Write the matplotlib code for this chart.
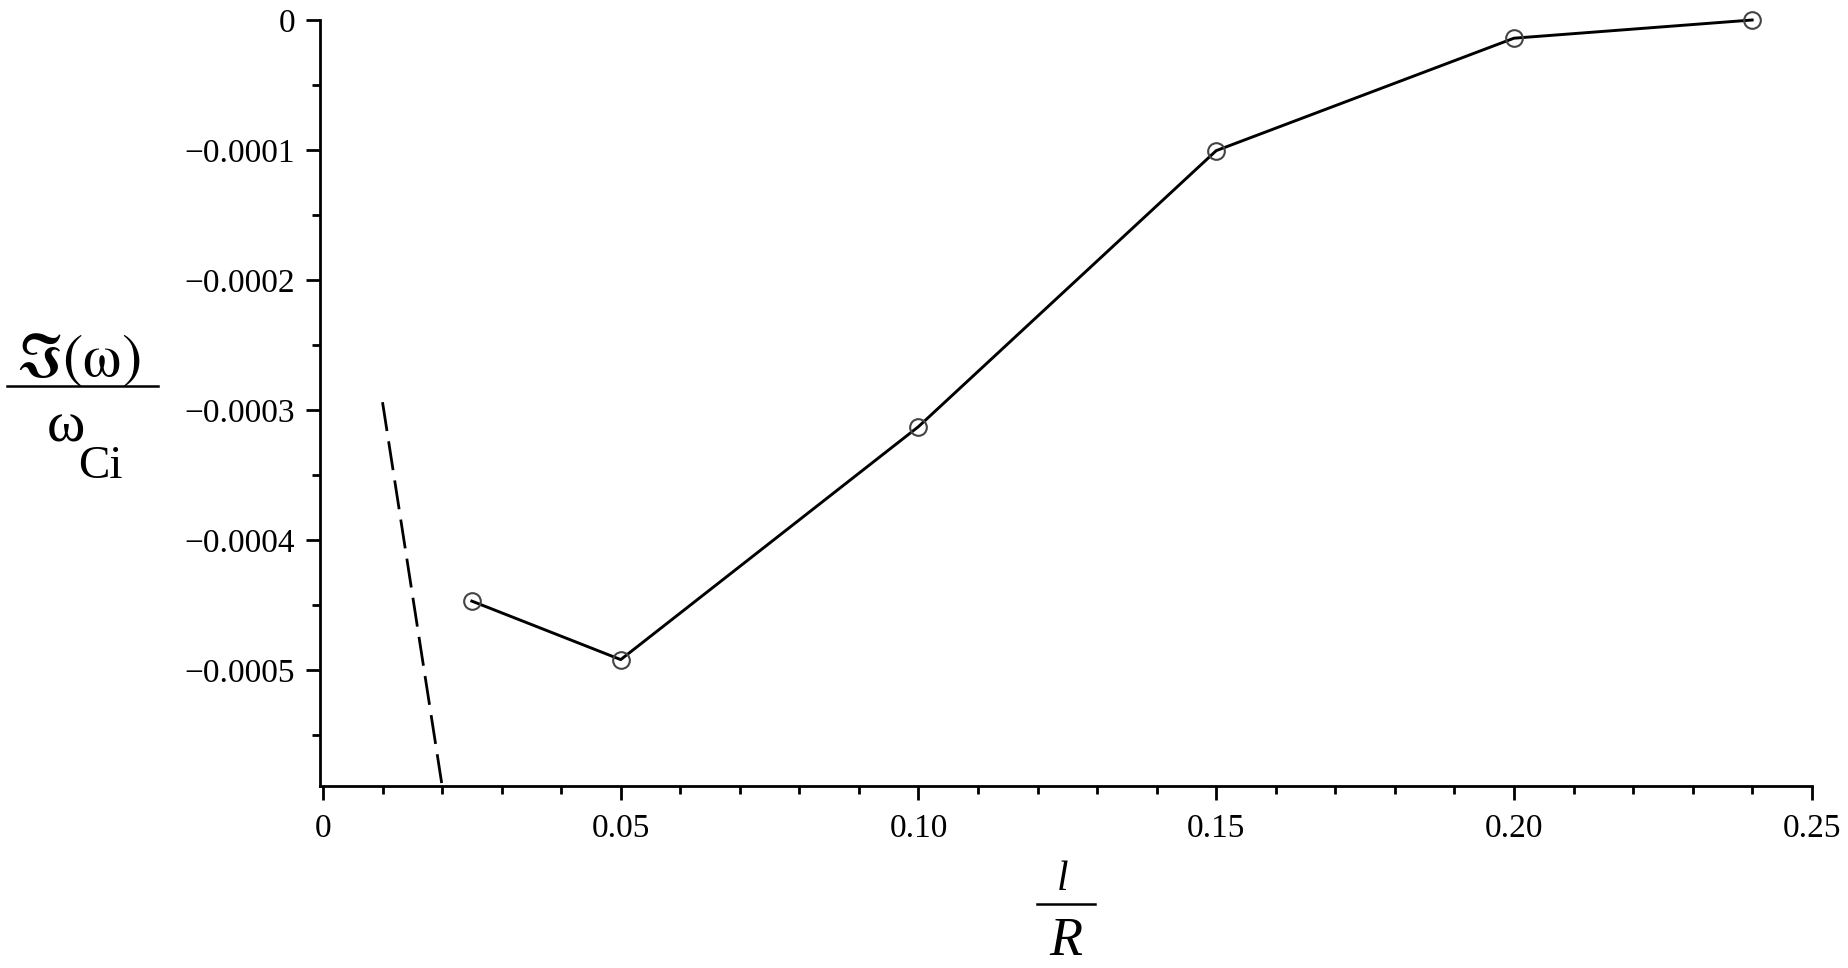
import matplotlib
matplotlib.use("Agg")
import matplotlib.pyplot as plt
from matplotlib.lines import Line2D
from matplotlib.ticker import MultipleLocator, FixedLocator

# ---- data ----
l_over_R = [0.025, 0.05, 0.10, 0.15, 0.20, 0.24]
im_omega = [-0.000447, -0.000492, -0.0003128, -0.0001005, -0.000014, 0.0]
dash_x = [0.01, 0.02]
dash_y = [-0.000294, -0.000589]
xtick_vals = [0, 0.05, 0.10, 0.15, 0.20, 0.25]
xtick_labels = ["0", "0.05", "0.10", "0.15", "0.20", "0.25"]
ytick_vals = [0, -0.0001, -0.0002, -0.0003, -0.0004, -0.0005]
ytick_labels = ["0", "\u22120.0001", "\u22120.0002", "\u22120.0003", "\u22120.0004", "\u22120.0005"]

plt.rcParams['font.family'] = ['Liberation Serif', 'DejaVu Serif', 'DejaVu Sans']
plt.rcParams['mathtext.fontset'] = 'stix'
plt.rcParams['lines.scale_dashes'] = False

W, H = 1848, 968
fig = plt.figure(figsize=(W / 100, H / 100), dpi=100)

left_px, right_px, top_px, bottom_px = 320, 1811.7, 20, 785.7
ax = fig.add_axes([left_px / W, 1 - bottom_px / H,
                   (right_px - left_px) / W, (bottom_px - top_px) / H])

ax.plot(dash_x, dash_y, color='black', lw=2.0, dashes=(21, 7.5))
ax.plot(l_over_R, im_omega, color='black', lw=2.1, marker='o', ms=12,
        mfc='none', mec='#444444', mew=1.5, clip_on=False, zorder=3)

ax.set_xlim(-0.0005, 0.25)
ax.set_ylim(-0.000589, 0.0)

for s in ['top', 'right']:
    ax.spines[s].set_visible(False)
for s in ['left', 'bottom']:
    ax.spines[s].set_linewidth(2.0)

ax.xaxis.set_major_locator(FixedLocator(xtick_vals))
ax.set_xticklabels(xtick_labels)
ax.xaxis.set_minor_locator(MultipleLocator(0.01))
ax.yaxis.set_major_locator(FixedLocator(ytick_vals))
ax.set_yticklabels(ytick_labels)
ax.yaxis.set_minor_locator(MultipleLocator(0.00005))

ax.tick_params(which='major', direction='out', length=10, width=2.0,
               labelsize=24, pad=8)
ax.tick_params(which='minor', direction='out', length=6, width=2.0)
ax.tick_params(axis='x', which='major', pad=10)


def fx(x):
    return x / W


def fy(y):
    return 1 - y / H


# y label: fraction Im(omega) / omega_Ci
fig.text(fx(78), fy(376), r"$\Im(\mathrm{\omega})$", ha='center', va='baseline',
         fontsize=44)
fig.add_artist(Line2D([fx(7), fx(158)], [fy(386), fy(386)], color='black',
                      lw=1.8, transform=fig.transFigure))
fig.text(fx(66), fy(442), "\u03c9", ha='center', va='baseline', fontsize=42)
fig.text(fx(100), fy(478), "Ci", ha='center', va='baseline', fontsize=34)

# x label: l / R
fig.text(fx(1063), fy(890), "l", ha='center', va='baseline', fontsize=30,
         style='italic')
fig.add_artist(Line2D([fx(1037), fx(1095)], [fy(904), fy(904)], color='black',
                      lw=1.8, transform=fig.transFigure))
fig.text(fx(1066), fy(955), "R", ha='center', va='baseline', fontsize=39,
         style='italic')

fig.savefig("out.png", dpi=100)
